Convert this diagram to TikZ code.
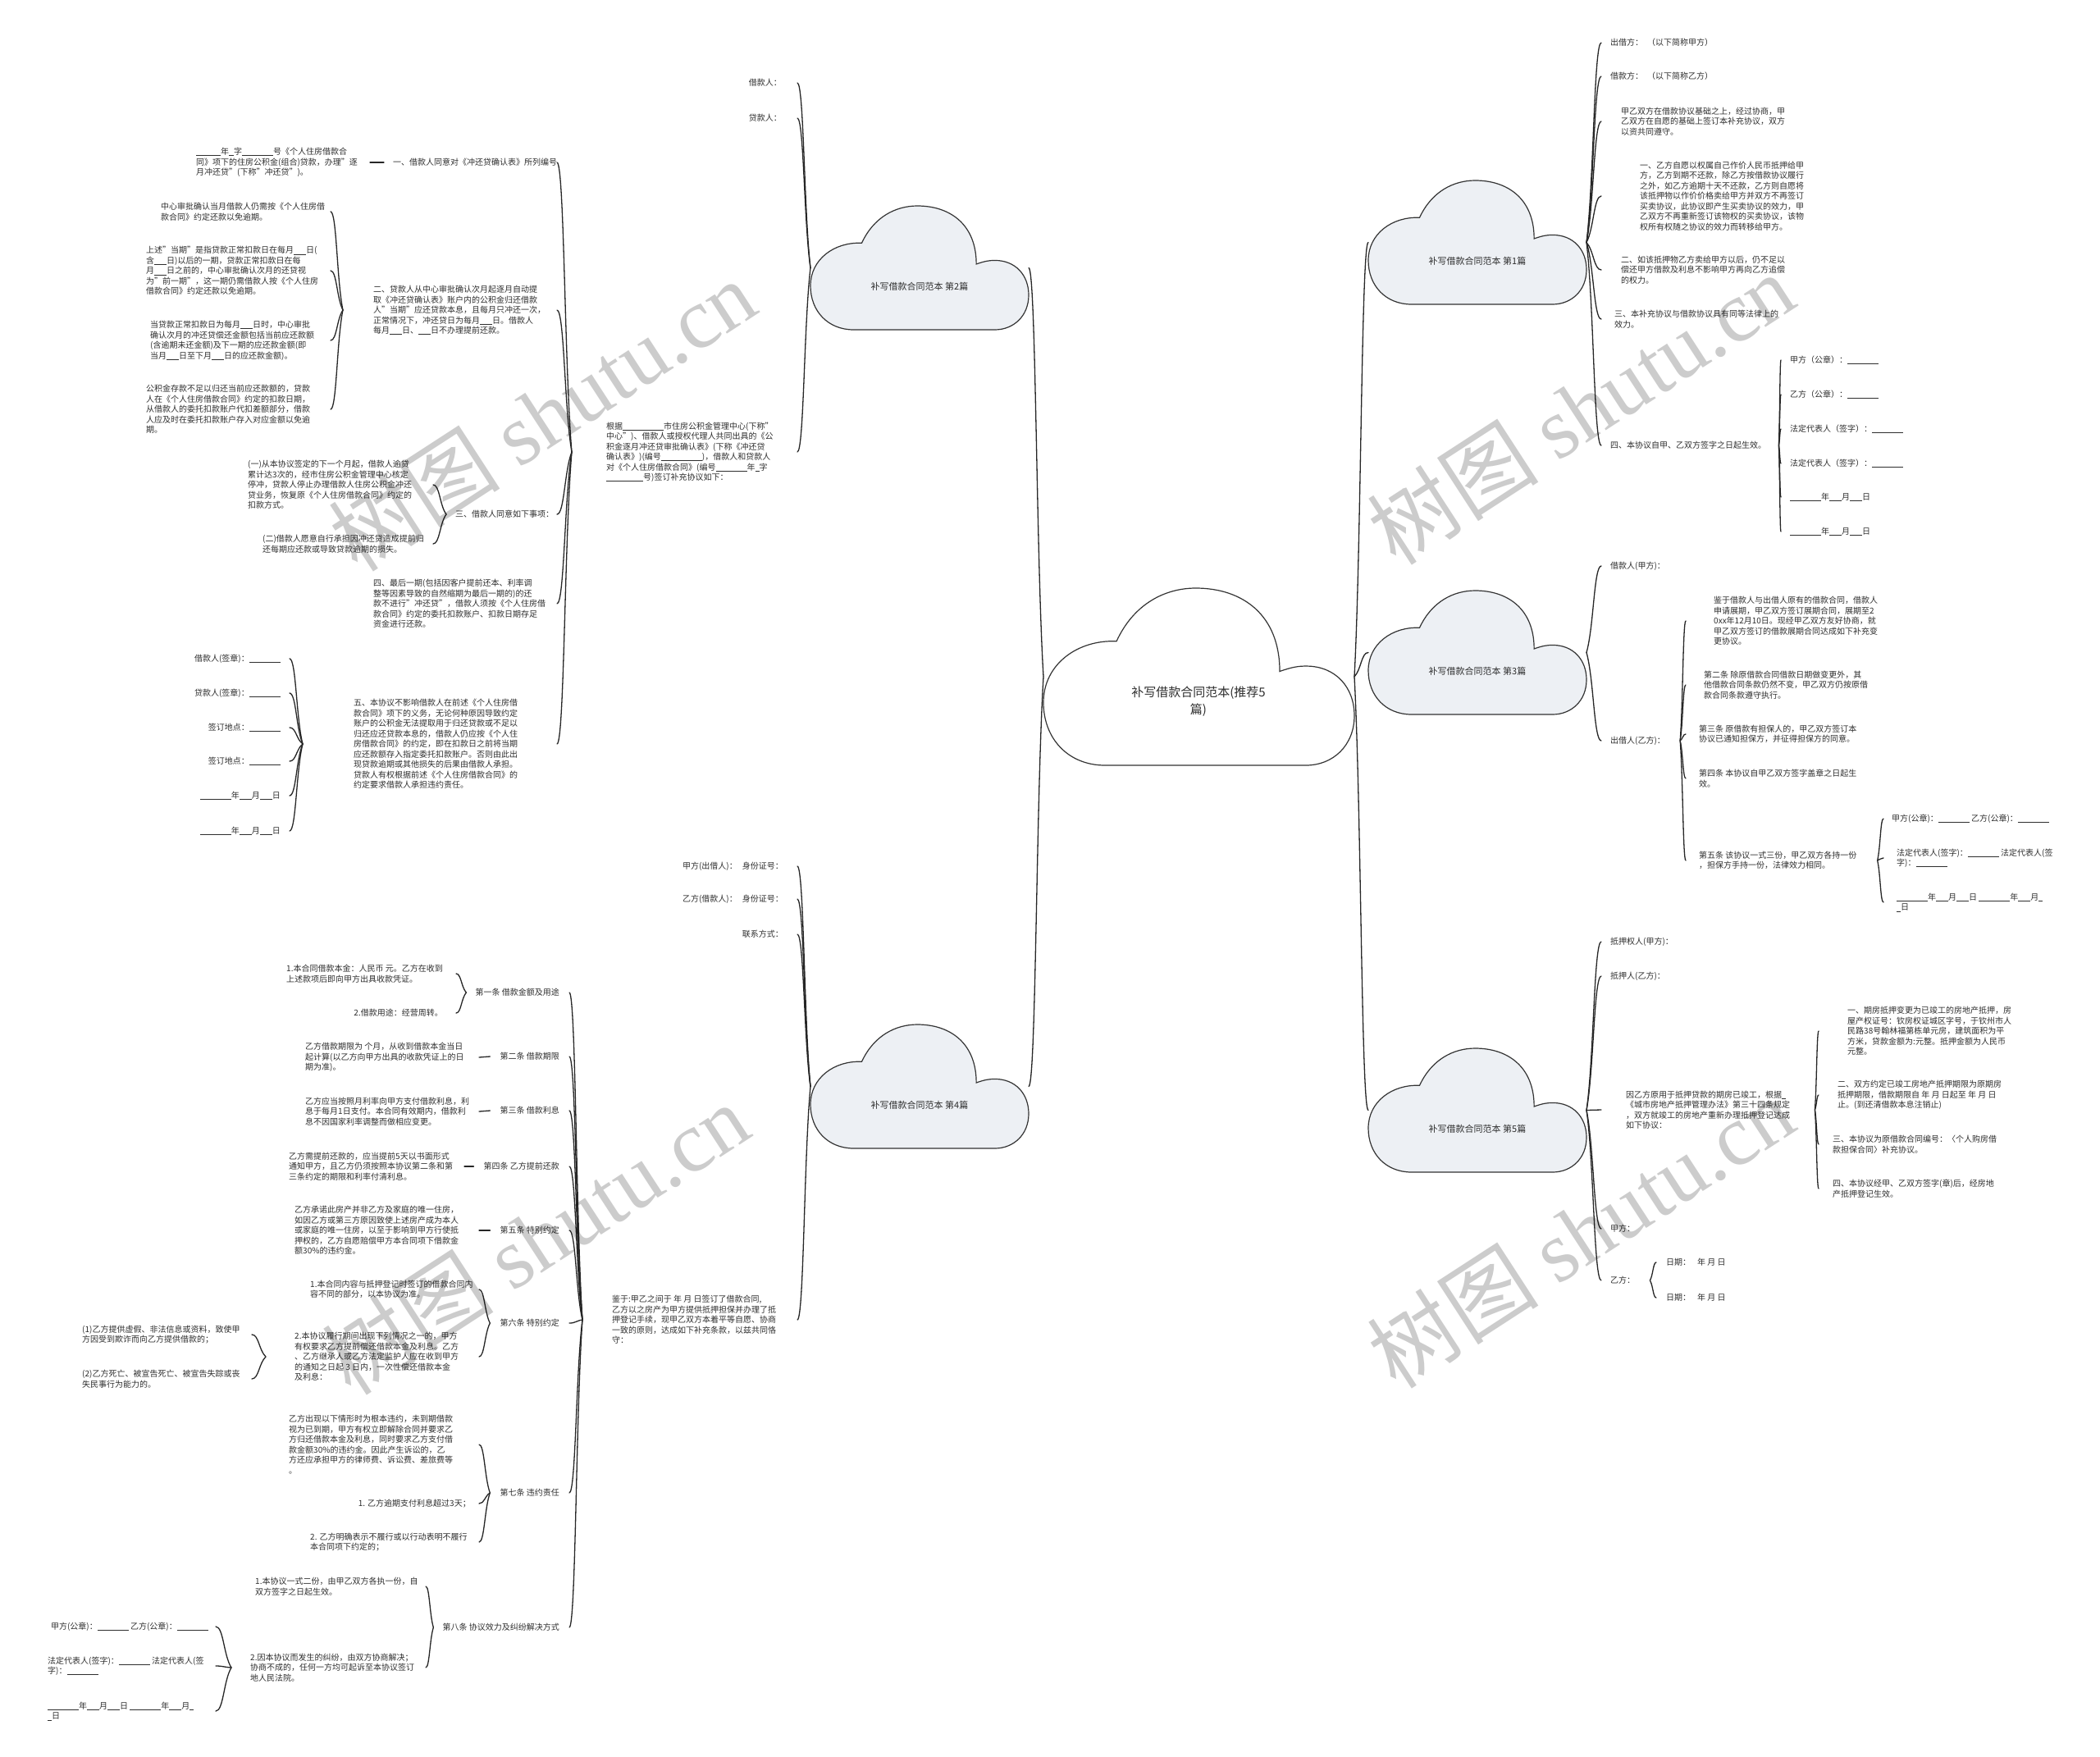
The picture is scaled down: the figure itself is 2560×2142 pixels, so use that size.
\documentclass[tikz,border=0pt]{standalone}
\usepackage{fontspec}
\setmainfont{Noto Sans CJK SC}
\newfontfamily\wmlat{Liberation Serif}
\usetikzlibrary{calc}
\definecolor{cloudfill}{HTML}{EDF0F4}
\newcommand\us[1]{\rule[-1.2pt]{#1pt}{0.5pt}}
\newcommand\conn[2]{\draw[link] let \p1=(#1), \p2=(#2) in (\p1) .. controls ({\x1+0.5*(\x2-\x1)},{\y1+0.3*(\y2-\y1)}) and ({\x1+0.5*(\x2-\x1)},{\y2}) .. (\p2);}
\newcommand\mkcloud[6]{%
 \node[anchor=north west, minimum width=#4pt, minimum height=#5pt, inner sep=0pt, outer sep=0pt] (#1) at (#2,#3) {};
 \begin{scope}[shift={(#2,#3)}, x=#4pt, y=-#5pt]
 \filldraw[fill=#6, draw=black!80, line width=1.2pt] (0.198,1) .. controls (0.08,1) and (0,0.85) .. (0,0.645) .. controls (0,0.43) and (0.11,0.29) .. (0.235,0.30) .. controls (0.29,0.09) and (0.39,0) .. (0.49,0) .. controls (0.64,0) and (0.76,0.15) .. (0.76,0.47) .. controls (0.80,0.445) and (0.82,0.44) .. (0.845,0.44) .. controls (0.94,0.44) and (1,0.56) .. (1,0.72) .. controls (1,0.89) and (0.93,1) .. (0.845,1) -- cycle;
 \end{scope}}
\tikzset{
 txt/.style={font=\fontsize{10}{12.5}\selectfont, align=left, inner sep=0pt, text=black!82},
 link/.style={draw=black!85, line width=1.3pt, line cap=round},
 ctext/.style={font=\fontsize{11}{14}\selectfont, text=black!82, inner sep=0pt},
 wm/.style={text=black, text opacity=0.2, font=\fontsize{105}{110}\selectfont, rotate=33, inner sep=0pt}
}
\begin{document}
\begin{tikzpicture}[x=1pt, y=-1pt]
\fill[white] (0,0) rectangle (2560,2142);
\useasboundingbox (0,0) rectangle (2560,2142);

% ---------- clouds ----------
\mkcloud{c0}{1272}{717}{379}{216}{white}
\node[ctext, font=\fontsize{15}{21}\selectfont, align=center] (c0t) at (1461,855) {补写借款合同范本(推荐5\\篇)};
\mkcloud{c2}{988}{251}{266}{151}{cloudfill}
\node[ctext] (c2t) at (1121,349) {补写借款合同范本 第2篇};
\mkcloud{c4}{988}{1249}{266}{151}{cloudfill}
\node[ctext] (c4t) at (1121,1347) {补写借款合同范本 第4篇};
\mkcloud{c1}{1668}{220}{266}{151}{cloudfill}
\node[ctext] (c1t) at (1801,318) {补写借款合同范本 第1篇};
\mkcloud{c3}{1668}{720}{266}{151}{cloudfill}
\node[ctext] (c3t) at (1801,818) {补写借款合同范本 第3篇};
\mkcloud{c5}{1668}{1278}{266}{151}{cloudfill}
\node[ctext] (c5t) at (1801,1376) {补写借款合同范本 第5篇};

\conn{c0.west}{c2.east}
\conn{c0.west}{c4.east}
\conn{c0.east}{c1.west}
\conn{c0.east}{c3.west}
\conn{c0.east}{c5.west}

% ---------- section 2 ----------
\coordinate (X2) at (972,0);
\node[txt, anchor=east] (n2a) at (953,101) {借款人：};
\node[txt, anchor=east] (n2b) at (953,144) {贷款人：};
\node[txt, anchor=west] (n2c) at (739,551) {根据\us{50}市住房公积金管理中心(下称"\\中心")、借款人或授权代理人共同出具的《公\\积金逐月冲还贷审批确认表》(下称《冲还贷\\确认表》)(编号\us{50})，借款人和贷款人\\对《个人住房借款合同》(编号\us{38}年\us{5}字\\\us{45}号)签订补充协议如下：};
\conn{c2.west}{n2a -| X2}
\conn{c2.west}{n2b -| X2}
\conn{c2.west}{n2c -| X2}

\coordinate (Xa) at (679,0);
\node[txt, anchor=west] (a1) at (479,198) {一、借款人同意对《冲还贷确认表》所列编号};
\node[txt, anchor=west] (a2) at (455,378) {二、贷款人从中心审批确认次月起逐月自动提\\取《冲还贷确认表》账户内的公积金归还借款\\人"当期"应还贷款本息，且每月只冲还一次，\\正常情况下，冲还贷日为每月\us{15}日。借款人\\每月\us{15}日、\us{15}日不办理提前还款。};
\node[txt, anchor=west] (a3) at (555,627) {三、借款人同意如下事项：};
\node[txt, anchor=west] (a4) at (455,736) {四、最后一期(包括因客户提前还本、利率调\\整等因素导致的自然缩期为最后一期的)的还\\款不进行"冲还贷"，借款人须按《个人住房借\\款合同》约定的委托扣款账户、扣款日期存足\\资金进行还款。};
\node[txt, anchor=west] (a5) at (431,907) {五、本协议不影响借款人在前述《个人住房借\\款合同》项下的义务，无论何种原因导致约定\\账户的公积金无法提取用于归还贷款或不足以\\归还应还贷款本息的，借款人仍应按《个人住\\房借款合同》的约定，即在扣款日之前将当期\\应还款额存入指定委托扣款账户。否则由此出\\现贷款逾期或其他损失的后果由借款人承担。\\贷款人有权根据前述《个人住房借款合同》的\\约定要求借款人承担违约责任。};
\foreach \c in {a1,a2,a3,a4,a5}{\conn{[xshift=-42pt]n2c.west}{\c -| Xa}}

\coordinate (Xa1) at (451,0);
\node[txt, anchor=west] (a1c) at (239,198) {\us{30}年\us{6}字\us{38}号《个人住房借款合\\同》项下的住房公积金(组合)贷款，办理"逐\\月冲还贷"(下称"冲还贷")。};
\conn{[xshift=-11pt]a1.west}{a1c -| Xa1}

\coordinate (Xb) at (403,0);
\node[txt, anchor=west] (b1) at (196,258) {中心审批确认当月借款人仍需按《个人住房借\\款合同》约定还款以免逾期。};
\node[txt, anchor=west] (b2) at (178,330) {上述"当期"是指贷款正常扣款日在每月\us{15}日(\\含\us{15}日)以后的一期，贷款正常扣款日在每\\月\us{15}日之前的，中心审批确认次月的还贷视\\为"前一期"，这一期仍需借款人按《个人住房\\借款合同》约定还款以免逾期。};
\node[txt, anchor=west] (b3) at (183,415) {当贷款正常扣款日为每月\us{15}日时，中心审批\\确认次月的冲还贷偿还金额包括当前应还款额\\(含逾期未还金额)及下一期的应还款金额(即\\当月\us{15}日至下月\us{15}日的应还款金额)。};
\node[txt, anchor=west] (b4) at (178,499) {公积金存款不足以归还当前应还款额的，贷款\\人在《个人住房借款合同》约定的扣款日期，\\从借款人的委托扣款账户代扣差额部分，借款\\人应及时在委托扣款账户存入对应金额以免逾\\期。};
\foreach \c in {b1,b2,b3,b4}{\conn{[xshift=-37pt]a2.west}{\c -| Xb}}

\coordinate (Xc) at (528,0);
\node[txt, anchor=west] (c1n) at (302,591) {(一)从本协议签定的下一个月起，借款人逾贷\\累计达3次的，经市住房公积金管理中心核定\\停冲，贷款人停止办理借款人住房公积金冲还\\贷业务，恢复原《个人住房借款合同》约定的\\扣款方式。};
\node[txt, anchor=west] (c2n) at (320,663) {(二)借款人愿意自行承担因冲还贷造成提前归\\还每期应还款或导致贷款逾期的损失。};
\foreach \c in {c1n,c2n}{\conn{[xshift=-11pt]a3.west}{\c -| Xc}}

\coordinate (Xd) at (353,0);
\node[txt, anchor=east] (d1) at (342,803) {借款人(签章)：\us{38}};
\node[txt, anchor=east] (d2) at (342,845) {贷款人(签章)：\us{38}};
\node[txt, anchor=east] (d3) at (342,887) {签订地点：\us{38}};
\node[txt, anchor=east] (d4) at (342,928) {签订地点：\us{38}};
\node[txt, anchor=east] (d5) at (342,970) {\us{38}年\us{15}月\us{15}日};
\node[txt, anchor=east] (d6) at (342,1013) {\us{38}年\us{15}月\us{15}日};
\foreach \c in {d1,d2,d3,d4,d5,d6}{\conn{[xshift=-62pt]a5.west}{\c -| Xd}}

% ---------- section 4 ----------
\coordinate (X4) at (972,0);
\node[txt, anchor=east] (e1) at (955,1056) {甲方(出借人)：\hspace{6pt}身份证号：};
\node[txt, anchor=east] (e2) at (955,1096) {乙方(借款人)：\hspace{6pt}身份证号：};
\node[txt, anchor=east] (e3) at (955,1139) {联系方式：};
\node[txt, anchor=west] (e4) at (746,1609) {鉴于:甲乙之间于 年 月 日签订了借款合同,\\乙方以之房产为甲方提供抵押担保并办理了抵\\押登记手续，现甲乙双方本着平等自愿、协商\\一致的原则，达成如下补充条款，以兹共同恪\\守：};
\foreach \c in {e1,e2,e3,e4}{\conn{c4.west}{\c -| X4}}

\coordinate (Xf) at (694,0);
\node[txt, anchor=east] (f1) at (682,1210) {第一条 借款金额及用途};
\node[txt, anchor=east] (f2) at (682,1288) {第二条 借款期限};
\node[txt, anchor=east] (f3) at (682,1354) {第三条 借款利息};
\node[txt, anchor=east] (f4) at (682,1422) {第四条 乙方提前还款};
\node[txt, anchor=east] (f5) at (682,1500) {第五条 特别约定};
\node[txt, anchor=east] (f6) at (682,1613) {第六条 特别约定};
\node[txt, anchor=east] (f7) at (682,1820) {第七条 违约责任};
\node[txt, anchor=east] (f8) at (682,1984) {第八条 协议效力及纠纷解决方式};
\foreach \c in {f1,f2,f3,f4,f5,f6,f7,f8}{\conn{[xshift=-36pt]e4.west}{\c -| Xf}}

\coordinate (Xg) at (556,0);
\node[txt, anchor=west] (g1) at (349,1187) {1.本合同借款本金：人民币 元。乙方在收到\\上述款项后即向甲方出具收款凭证。};
\node[txt, anchor=east] (g2) at (540,1235) {2.借款用途：经营周转。};
\foreach \c in {g1,g2}{\conn{[xshift=-11pt]f1.west}{\c -| Xg}}

\coordinate (X584) at (584,0);
\coordinate (X566) at (566,0);
\node[txt, anchor=west] (f2c) at (372,1289) {乙方借款期限为 个月，从收到借款本金当日\\起计算(以乙方向甲方出具的收款凭证上的日\\期为准)。};
\conn{[xshift=-12pt]f2.west}{f2c -| X584}
\node[txt, anchor=west] (f3c) at (372,1355) {乙方应当按照月利率向甲方支付借款利息，利\\息于每月1日支付。本合同有效期内，借款利\\息不因国家利率调整而做相应变更。};
\conn{[xshift=-12pt]f3.west}{f3c -| X584}
\node[txt, anchor=west] (f4c) at (352,1422) {乙方需提前还款的，应当提前5天以书面形式\\通知甲方，且乙方仍须按照本协议第二条和第\\三条约定的期限和利率付清利息。};
\conn{[xshift=-12pt]f4.west}{f4c -| X566}
\node[txt, anchor=west] (f5c) at (359,1500) {乙方承诺此房产并非乙方及家庭的唯一住房，\\如因乙方或第三方原因致使上述房产成为本人\\或家庭的唯一住房，以至于影响到甲方行使抵\\押权的，乙方自愿赔偿甲方本合同项下借款金\\额30\%的违约金。};
\conn{[xshift=-12pt]f5.west}{f5c -| X584}

\node[txt, anchor=west] (h1) at (378,1572) {1.本合同内容与抵押登记时签订的借款合同内\\容不同的部分，以本协议为准。};
\node[txt, anchor=west] (h2) at (359,1654) {2.本协议履行期间出现下列情况之一的，甲方\\有权要求乙方提前偿还借款本金及利息。乙方\\、乙方继承人或乙方法定监护人应在收到甲方\\的通知之日起 3 日内，一次性偿还借款本金\\及利息：};
\foreach \c in {h1,h2}{\conn{[xshift=-12pt]f6.west}{\c -| X584}}

\coordinate (Xi) at (307,0);
\node[txt, anchor=west] (i1) at (100,1627) {(1)乙方提供虚假、非法信息或资料，致使甲\\方因受到欺诈而向乙方提供借款的；};
\node[txt, anchor=west] (i2) at (100,1681) {(2)乙方死亡、被宣告死亡、被宣告失踪或丧\\失民事行为能力的。};
\foreach \c in {i1,i2}{\conn{[xshift=-35pt]h2.west}{\c -| Xi}}

\node[txt, anchor=west] (k1) at (352,1761) {乙方出现以下情形时为根本违约，未到期借款\\视为已到期，甲方有权立即解除合同并要求乙\\方归还借款本金及利息，同时要求乙方支付借\\款金额30\%的违约金。因此产生诉讼的，乙\\方还应承担甲方的律师费、诉讼费、差旅费等\\。};
\node[txt, anchor=east] (k2) at (574,1833) {1. 乙方逾期支付利息超过3天；};
\node[txt, anchor=west] (k3) at (378,1880) {2. 乙方明确表示不履行或以行动表明不履行\\本合同项下约定的；};
\foreach \c in {k1,k2,k3}{\conn{[xshift=-12pt]f7.west}{\c -| X584}}

\coordinate (Xm) at (519,0);
\node[txt, anchor=west] (m1) at (311,1934) {1.本协议一式二份，由甲乙双方各执一份，自\\双方签字之日起生效。};
\node[txt, anchor=west] (m2) at (305,2033) {2.因本协议而发生的纠纷，由双方协商解决；\\协商不成的，任何一方均可起诉至本协议签订\\地人民法院。};
\foreach \c in {m1,m2}{\conn{[xshift=-11pt]f8.west}{\c -| Xm}}

\coordinate (Xp) at (263,0);
\node[txt, anchor=east] (p1) at (254,1983) {甲方(公章)：\us{38} 乙方(公章)：\us{38}};
\node[txt, anchor=west] (p2) at (58,2031) {法定代表人(签字)：\us{38} 法定代表人(签\\字)：\us{38}};
\node[txt, anchor=west] (p3) at (58,2086) {\us{38}年\us{15}月\us{15}日 \us{38}年\us{15}月\us{5}\\\us{5}日};
\foreach \c in {p1,p2,p3}{\conn{[xshift=-23pt]m2.west}{\c -| Xp}}

% ---------- section 1 ----------
\coordinate (X1) at (1952,0);
\node[txt, anchor=west] (q1) at (1963,52) {出借方：\hspace{5pt}（以下简称甲方）};
\node[txt, anchor=west] (q2) at (1963,93) {借款方：\hspace{5pt}（以下简称乙方）};
\node[txt, anchor=west] (q3) at (1976,148) {甲乙双方在借款协议基础之上，经过协商，甲\\乙双方在自愿的基础上签订本补充协议，双方\\以资共同遵守。};
\node[txt, anchor=west] (q4) at (1999,239) {一、乙方自愿以权属自己作价人民币抵押给甲\\方，乙方到期不还款，除乙方按借款协议履行\\之外，如乙方逾期十天不还款，乙方则自愿将\\该抵押物以作价价格卖给甲方并双方不再签订\\买卖协议，此协议即产生买卖协议的效力，甲\\乙双方不再重新签订该物权的买卖协议，该物\\权所有权随之协议的效力而转移给甲方。};
\node[txt, anchor=west] (q5) at (1976,329) {二、如该抵押物乙方卖给甲方以后，仍不足以\\偿还甲方借款及利息不影响甲方再向乙方追偿\\的权力。};
\node[txt, anchor=west] (q6) at (1968,389) {三、本补充协议与借款协议具有同等法律上的\\效力。};
\node[txt, anchor=west] (q7) at (1963,543) {四、本协议自甲、乙双方签字之日起生效。};
\foreach \c in {q1,q2,q3,q4,q5,q6,q7}{\conn{c1.east}{\c -| X1}}

\coordinate (Xr) at (2171,0);
\node[txt, anchor=west] (r1) at (2182,439) {甲方（公章）：\us{38}};
\node[txt, anchor=west] (r2) at (2182,481) {乙方（公章）：\us{38}};
\node[txt, anchor=west] (r3) at (2182,523) {法定代表人（签字）：\us{38}};
\node[txt, anchor=west] (r4) at (2182,565) {法定代表人（签字）：\us{38}};
\node[txt, anchor=west] (r5) at (2182,606) {\us{38}年\us{15}月\us{15}日};
\node[txt, anchor=west] (r6) at (2182,648) {\us{38}年\us{15}月\us{15}日};
\foreach \c in {r1,r2,r3,r4,r5,r6}{\conn{[xshift=15pt]q7.east}{\c -| Xr}}

% ---------- section 3 ----------
\coordinate (X3) at (1952,0);
\node[txt, anchor=west] (s1) at (1963,690) {借款人(甲方)：};
\node[txt, anchor=west] (s2) at (1963,903) {出借人(乙方)：};
\foreach \c in {s1,s2}{\conn{c3.east}{\c -| X3}}

\coordinate (Xt) at (2055,0);
\node[txt, anchor=west] (t1) at (2089,757) {鉴于借款人与出借人原有的借款合同，借款人\\申请展期，甲乙双方签订展期合同，展期至2\\0xx年12月10日。现经甲乙双方友好协商，就\\甲乙双方签订的借款展期合同达成如下补充变\\更协议。};
\node[txt, anchor=west] (t2) at (2077,835) {第二条 除原借款合同借款日期做变更外，其\\他借款合同条款仍然不变，甲乙双方仍按原借\\款合同条款遵守执行。};
\node[txt, anchor=west] (t3) at (2071,895) {第三条 原借款有担保人的，甲乙双方签订本\\协议已通知担保方，并征得担保方的同意。};
\node[txt, anchor=west] (t4) at (2071,949) {第四条 本协议自甲乙双方签字盖章之日起生\\效。};
\node[txt, anchor=west] (t5) at (2071,1049) {第五条 该协议一式三份，甲乙双方各持一份\\，担保方手持一份，法律效力相同。};
\foreach \c in {t1,t2,t3,t4,t5}{\conn{[xshift=18pt]s2.east}{\c -| Xt}}

\coordinate (Xu) at (2296,0);
\node[txt, anchor=west] (u1) at (2306,998) {甲方(公章)：\us{38} 乙方(公章)：\us{38}};
\node[txt, anchor=west] (u2) at (2312,1046) {法定代表人(签字)：\us{38} 法定代表人(签\\字)：\us{38}};
\node[txt, anchor=west] (u3) at (2312,1100) {\us{38}年\us{15}月\us{15}日 \us{38}年\us{15}月\us{5}\\\us{5}日};
\foreach \c in {u1,u2,u3}{\conn{[xshift=25pt]t5.east}{\c -| Xu}}

% ---------- section 5 ----------
\coordinate (X5) at (1952,0);
\node[txt, anchor=west] (v1) at (1963,1148) {抵押权人(甲方)：};
\node[txt, anchor=west] (v2) at (1963,1190) {抵押人(乙方)：};
\node[txt, anchor=west] (v3) at (1982,1353) {因乙方原用于抵押贷款的期房已竣工，根据\us{5}\\《城市房地产抵押管理办法》第三十四条规定\\，双方就竣工的房地产重新办理抵押登记达成\\如下协议：};
\node[txt, anchor=west] (v4) at (1963,1498) {甲方：};
\node[txt, anchor=west] (v5) at (1963,1561) {乙方：};
\foreach \c in {v1,v2,v3,v4,v5}{\conn{c5.east}{\c -| X5}}

\coordinate (Xw) at (2217,0);
\node[txt, anchor=west] (w1) at (2252,1257) {一、期房抵押变更为已竣工的房地产抵押，房\\屋产权证号：钦房权证城区字号，于钦州市人\\民路38号翰林福第栋单元房，建筑面积为平\\方米，贷款金额为:元整。抵押金额为人民币\\元整。};
\node[txt, anchor=west] (w2) at (2240,1335) {二、双方约定已竣工房地产抵押期限为原期房\\抵押期限，借款期限自 年 月 日起至 年 月 日\\止。(到还清借款本息注销止)};
\node[txt, anchor=west] (w3) at (2234,1395) {三、本协议为原借款合同编号：〈个人购房借\\款担保合同〉补充协议。};
\node[txt, anchor=west] (w4) at (2234,1449) {四、本协议经甲、乙双方签字(章)后，经房地\\产抵押登记生效。};
\foreach \c in {w1,w2,w3,w4}{\conn{[xshift=30pt]v3.east}{\c -| Xw}}

\coordinate (Xx) at (2019,0);
\node[txt, anchor=west] (x1) at (2031,1539) {日期：\hspace{8pt}年 月 日};
\node[txt, anchor=west] (x2) at (2031,1582) {日期：\hspace{8pt}年 月 日};
\foreach \c in {x1,x2}{\conn{[xshift=18pt]v5.east}{\c -| Xx}}

% ---------- watermarks ----------
\node[wm] (wm1) at (661,506) {树图 {\wmlat shutu.cn}};
\node[wm] (wm2) at (1927,498) {树图 {\wmlat shutu.cn}};
\node[wm] (wm3) at (653,1510) {树图 {\wmlat shutu.cn}};
\node[wm] (wm4) at (1927,1502) {树图 {\wmlat shutu.cn}};
\end{tikzpicture}
\end{document}
